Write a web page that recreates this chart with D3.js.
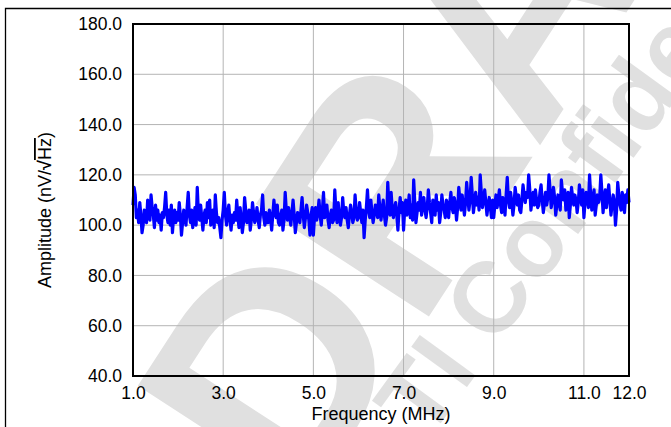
<!DOCTYPE html>
<html><head><meta charset="utf-8">
<script src="https://cdn.jsdelivr.net/npm/d3@7"></script>
<style>html,body{margin:0;padding:0;background:#fff;}svg{display:block;}</style>
</head><body>
<script>
// ---- data ----
const freqStart = 1.0;    // MHz
const freqStep = 0.025;   // MHz between samples
const amplitude = [
108,115,112,103,106,101,109,104,97,100,106,103,101,110,105,102,112,107,104,99,
108,102,106,101,104,98,105,103,107,113,104,101,106,100,108,97,103,106,101,105,
102,109,104,96,101,106,103,100,107,113,104,101,106,99,103,107,100,115,105,102,
108,103,98,104,106,101,109,103,110,100,104,106,99,112,105,101,103,99,95,102,
106,113,104,100,105,108,102,98,104,101,105,102,110,104,99,107,103,97,101,111,
106,101,103,106,98,102,109,105,101,103,107,102,99,104,106,112,103,100,105,101,
101,106,103,98,104,110,105,103,108,101,100,104,106,98,102,113,106,102,107,103,
100,105,110,104,97,101,105,103,101,106,111,104,99,103,108,105,102,96,104,107,
96,103,107,102,105,110,104,100,106,113,103,105,108,102,99,104,106,101,102,114,
106,101,109,104,100,103,111,105,103,107,102,99,104,108,105,101,103,112,106,102,
103,109,105,101,106,95,102,107,114,106,103,110,105,101,104,108,106,103,112,107,
102,106,110,104,100,103,117,108,104,113,106,103,107,109,104,98,106,111,105,109,
98,106,110,104,107,112,103,108,102,118,109,101,105,109,106,113,104,108,111,106,
103,107,114,109,105,101,110,107,104,112,106,109,101,105,112,108,106,103,110,107,
103,109,113,107,105,111,108,102,107,115,110,106,112,108,104,109,117,111,106,110,
119,112,105,109,113,108,111,106,120,113,107,110,114,109,104,108,111,107,103,110,
103,108,112,107,110,114,108,105,111,109,104,112,119,110,107,113,109,104,108,115,
111,108,112,106,105,110,116,112,109,113,111,120,114,106,110,113,108,114,110,107,
108,113,116,110,105,109,113,108,111,120,114,107,110,115,111,104,108,112,109,106,
118,113,110,114,106,109,113,103,108,115,111,108,112,110,105,109,116,112,108,114,
103,109,113,110,107,120,112,106,111,114,104,108,112,109,111,120,113,105,110,114,
107,112,116,110,104,108,112,109,100,106,117,112,108,106,113,110,105,112,109,114,
109
];
const xTicks = [1, 3, 5, 7, 9, 11, 12];
const yTicks = [40, 60, 80, 100, 120, 140, 160, 180];
const xLabel = "Frequency (MHz)";
const watermarkMain = "DRAFT";
const watermarkSub = "TI Confidential";

const W = 671, H = 427;
const m = {left: 133, top: 24, right: 629, bottom: 376};
const svg = d3.select("body").append("svg").attr("width", W).attr("height", H)
  .style("font-family", "Arial, 'Liberation Sans', sans-serif");

const x = d3.scaleLinear().domain([1, 12]).range([m.left, m.right]);
const y = d3.scaleLinear().domain([40, 180]).range([m.bottom, m.top]);

// watermark
svg.append("text").text(watermarkMain)
  .attr("transform", "translate(300,515) rotate(-57)")
  .attr("font-size", 300).attr("font-weight", "bold").attr("fill", "#e0e0e0");
svg.append("text").text(watermarkSub)
  .attr("transform", "translate(427,442) rotate(-54)")
  .attr("font-size", 100).attr("font-weight", "bold").attr("fill", "#e0e0e0");

// outer frame
svg.append("path").attr("d", `M5.5,${H} V8.5 H${W}`).attr("fill", "none")
  .attr("stroke", "#000").attr("stroke-width", 1.3);

// grid
const grid = svg.append("g").attr("stroke", "#b4b4b4").attr("stroke-width", 1);
grid.selectAll("line.v").data(xTicks.filter(d => d > 1 && d < 12)).join("line")
  .attr("x1", d => x(d)).attr("x2", d => x(d)).attr("y1", m.top).attr("y2", m.bottom);
grid.selectAll("line.h").data(yTicks.filter(d => d > 40 && d < 180)).join("line")
  .attr("y1", d => y(d)).attr("y2", d => y(d)).attr("x1", m.left).attr("x2", m.right);

// data line
const pts = amplitude.map((v, i) => [freqStart + i * freqStep, v]);
svg.append("path").datum(pts)
  .attr("d", d3.line().x(d => x(d[0])).y(d => y(d[1])))
  .attr("fill", "none").attr("stroke", "#0000ff").attr("stroke-width", 3.2)
  .attr("stroke-linejoin", "round");

// plot frame
svg.append("rect").attr("x", m.left).attr("y", m.top)
  .attr("width", m.right - m.left).attr("height", m.bottom - m.top)
  .attr("fill", "none").attr("stroke", "#000").attr("stroke-width", 2);

// axes (labels only)
const xAxis = svg.append("g").attr("transform", `translate(0,${m.bottom})`)
  .call(d3.axisBottom(x).tickValues(xTicks).tickSize(0).tickPadding(11).tickFormat(d3.format(".1f")));
xAxis.select(".domain").remove();
xAxis.selectAll("text").attr("font-size", 17.5).attr("fill", "#000").attr("font-family", null);

const yAxis = svg.append("g").attr("transform", `translate(${m.left},0)`)
  .call(d3.axisLeft(y).tickValues(yTicks).tickSize(0).tickPadding(11).tickFormat(d3.format(".1f")));
yAxis.select(".domain").remove();
yAxis.selectAll("text").attr("font-size", 17.5).attr("fill", "#000").attr("font-family", null);

// axis titles
svg.append("text").attr("x", (m.left + m.right) / 2).attr("y", 420)
  .attr("text-anchor", "middle").attr("font-size", 18).text(xLabel);

const yt = svg.append("text").attr("transform", "translate(51,210) rotate(-90)")
  .attr("text-anchor", "middle").attr("font-size", 18);
yt.append("tspan").text("Amplitude (nV/");
yt.append("tspan").attr("font-weight", "bold").text("\u221A");
yt.append("tspan").style("text-decoration", "overline").text("Hz");
yt.append("tspan").text(")");
</script>
</body></html>
